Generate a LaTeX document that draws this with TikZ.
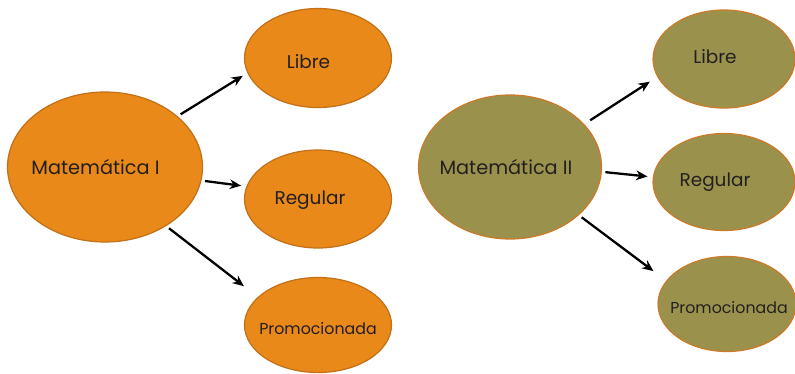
\documentclass[tikz,border=0pt]{standalone}
\usepackage{fontspec}
\setmainfont{Poppins}
\usetikzlibrary{arrows.meta, shapes.geometric}
\definecolor{naranja}{RGB}{232,137,26}
\definecolor{naranjaborde}{RGB}{196,112,24}
\definecolor{oliva}{RGB}{154,146,76}
\definecolor{olivaborde}{RGB}{204,122,40}
\definecolor{texto}{RGB}{35,31,32}

\begin{document}
\begin{tikzpicture}[
  x=0.02cm, y=-0.02cm,
  txt/.style={text=texto, font=\fontsize{10.5}{12}\selectfont},
  txtsmall/.style={text=texto, font=\fontsize{9}{10}\selectfont},
  txtbig/.style={text=texto, font=\fontsize{11}{13}\selectfont},
  materia/.style={ellipse, inner sep=0pt},
  mat1/.style={materia, fill=naranja, draw=naranjaborde, line width=0.7pt},
  mat2/.style={materia, fill=oliva, draw=olivaborde, line width=0.7pt},
  arr/.style={-{Stealth[length=6.5pt, width=5.5pt]}, line width=1.3pt, black,
              shorten <=2pt, shorten >=3pt}
]
\useasboundingbox (0,0) rectangle (795,373);

% Matematica I (left)
\node[mat1, minimum width=3.9cm, minimum height=3.0cm,
      label={[txtbig, xshift=-0.19cm]center:Matemática I}] (m1) at (105,167) {};
\node[mat1, minimum width=2.94cm, minimum height=1.98cm,
      label={[txt, xshift=-0.19cm, yshift=-0.08cm]center:Libre}] (libre1) at (318,58) {};
\node[mat1, minimum width=2.94cm, minimum height=1.96cm,
      label={[txt, xshift=-0.16cm, yshift=-0.02cm]center:Regular}] (reg1) at (318,199) {};
\node[mat1, minimum width=2.94cm, minimum height=1.9cm,
      label={[txtsmall, yshift=-0.08cm]center:Promocionada}] (prom1) at (318,325) {};

% Matematica II (right)
\node[mat2, minimum width=3.66cm, minimum height=2.88cm,
      label={[txtbig, xshift=-0.08cm]center:Matemática II}] (m2) at (510,167) {};
\node[mat2, minimum width=2.84cm, minimum height=1.96cm,
      label={[txt, xshift=-0.18cm, yshift=0.04cm]center:Libre}] (libre2) at (724,59) {};
\node[mat2, minimum width=2.84cm, minimum height=1.94cm,
      label={[txt, xshift=-0.18cm]center:Regular}] (reg2) at (724,182) {};
\node[mat2, minimum width=2.76cm, minimum height=1.9cm,
      label={[txtsmall, xshift=0.04cm, yshift=-0.08cm]center:Promocionada}] (prom2) at (727,304) {};

% Arrows
\draw[arr] (m1.35) -- (libre1.192);
\draw[arr] (m1.-8) -- (reg1.170);
\draw[arr, shorten >=10pt] (m1.-44) -- (prom1.155);
\draw[arr, shorten <=4pt, shorten >=5pt] (m2.30) -- (libre2.195);
\draw[arr] (m2.-3) -- (reg2.176);
\draw[arr, shorten >=9pt] (m2.-35) -- (prom2.159);

\end{tikzpicture}
\end{document}
